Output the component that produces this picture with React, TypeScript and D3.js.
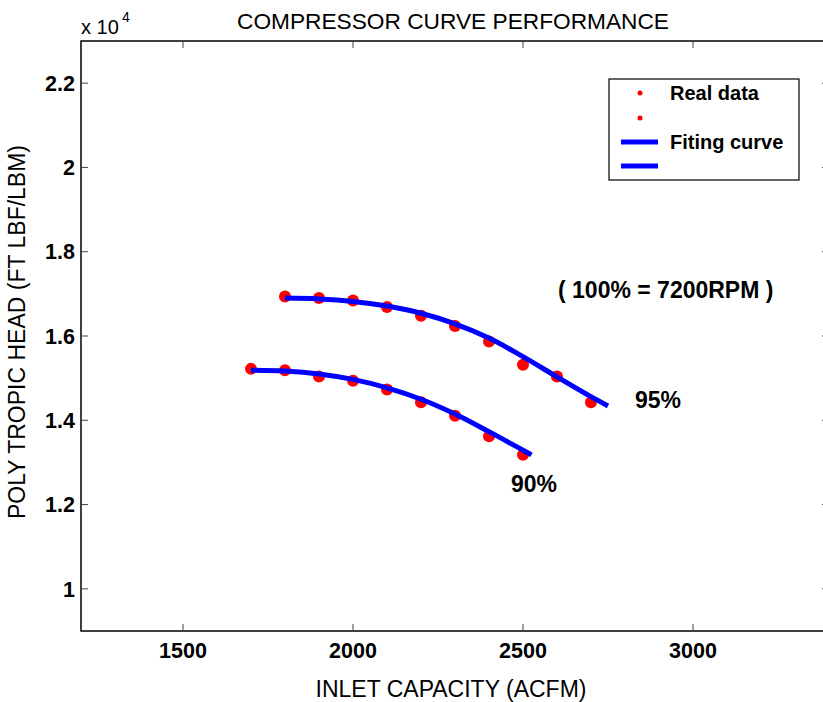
import React from "react";
import * as d3 from "d3";

// ---- data (head values in FT LBF/LBM, shown x 10^4) ----
const xTicks = [1500, 2000, 2500, 3000];
const yTicks = [10000, 12000, 14000, 16000, 18000, 20000, 22000];

const realX95 = [1800, 1900, 2000, 2100, 2200, 2300, 2400, 2500, 2600, 2700];
const realY95 = [16940, 16900, 16840, 16690, 16480, 16240, 15870, 15320, 15040, 14430];

const realX90 = [1700, 1800, 1900, 2000, 2100, 2200, 2300, 2400, 2500];
const realY90 = [15220, 15190, 15040, 14940, 14730, 14430, 14110, 13620, 13180];

const fitX95 = [1800, 1900, 2000, 2100, 2200, 2300, 2400, 2500, 2600, 2700, 2750];
const fitY95 = [16900, 16880, 16820, 16710, 16540, 16290, 15950, 15510, 15030, 14560, 14340];

const fitX90 = [1700, 1800, 1900, 2000, 2100, 2200, 2300, 2400, 2500, 2525];
const fitY90 = [15190, 15170, 15100, 14970, 14770, 14500, 14150, 13730, 13290, 13180];

const legendLabels = ["Real data", "", "Fiting curve", ""];

const W = 823;
const H = 702;
const M = { left: 81, top: 41, right: 829, bottom: 631 };

export default function App() {
  const x = d3.scaleLinear().domain([1200, 3400]).range([M.left, M.right]);
  const y = d3.scaleLinear().domain([9000, 23000]).range([M.bottom, M.top]);
  const line = d3
    .line<[number, number]>()
    .x((d) => x(d[0]))
    .y((d) => y(d[1]))
    .curve(d3.curveCatmullRom.alpha(0.5));

  const fit95 = fitX95.map((v, i) => [v, fitY95[i]] as [number, number]);
  const fit90 = fitX90.map((v, i) => [v, fitY90[i]] as [number, number]);
  const pts = [
    ...realX95.map((v, i) => [v, realY95[i]]),
    ...realX90.map((v, i) => [v, realY90[i]]),
  ];
  const tickLen = 7;
  const font = "'Liberation Sans', Arial, Helvetica, sans-serif";
  const fmt = (d: number) => String(d / 1e4);

  return (
    <svg
      width={W}
      height={H}
      style={{ position: "absolute", left: 0, top: 0, background: "#fff" }}
      fontFamily={font}
    >
      <rect x={0} y={0} width={W} height={H} fill="#fff" />
      {/* axes box */}
      <rect
        x={M.left}
        y={M.top}
        width={M.right - M.left}
        height={M.bottom - M.top}
        fill="none"
        stroke="#000"
        strokeWidth={1.5}
      />
      {/* ticks */}
      {xTicks.map((t) => (
        <g key={"xt" + t}>
          <line x1={x(t)} x2={x(t)} y1={M.bottom} y2={M.bottom - tickLen} stroke="#444" strokeWidth={1} />
          <line x1={x(t)} x2={x(t)} y1={M.top} y2={M.top + tickLen} stroke="#444" strokeWidth={1} />
          <text x={x(t)} y={658} textAnchor="middle" fontSize={21.5} fontWeight="bold" fill="#000">
            {t}
          </text>
        </g>
      ))}
      {yTicks.map((t) => (
        <g key={"yt" + t}>
          <line x1={M.left} x2={M.left + tickLen} y1={y(t)} y2={y(t)} stroke="#444" strokeWidth={1} />
          <line x1={M.right} x2={M.right - tickLen} y1={y(t)} y2={y(t)} stroke="#444" strokeWidth={1} />
          <text x={75} y={y(t)} dy="0.36em" textAnchor="end" fontSize={21.5} fontWeight="bold" fill="#000">
            {fmt(t)}
          </text>
        </g>
      ))}
      {/* exponent */}
      <text x={81} y={34} fontSize={20} fill="#000">
        x 10
      </text>
      <text x={122} y={22} fontSize={14} fill="#000">
        4
      </text>
      {/* title & labels */}
      <text x={453} y={29} textAnchor="middle" fontSize={22.7} fill="#000">
        COMPRESSOR CURVE PERFORMANCE
      </text>
      <text x={451} y={697} textAnchor="middle" fontSize={23} fill="#000">
        INLET CAPACITY (ACFM)
      </text>
      <text
        transform="translate(25,332) rotate(-90)"
        textAnchor="middle"
        fontSize={23}
        fill="#000"
      >
        POLY TROPIC HEAD (FT LBF/LBM)
      </text>
      {/* data */}
      {pts.map((p, i) => (
        <circle key={"p" + i} cx={x(p[0])} cy={y(p[1])} r={6} fill="#ff0000" />
      ))}
      <path d={line(fit95) || ""} fill="none" stroke="#0000ff" strokeWidth={5} />
      <path d={line(fit90) || ""} fill="none" stroke="#0000ff" strokeWidth={5} />
      {/* annotations */}
      <text x={558} y={298} fontSize={23} fontWeight="bold" fill="#000">
        ( 100% = 7200RPM )
      </text>
      <text x={635} y={408} fontSize={23} fontWeight="bold" fill="#000">
        95%
      </text>
      <text x={511} y={492} fontSize={23} fontWeight="bold" fill="#000">
        90%
      </text>
      {/* legend */}
      <rect x={609} y={79} width={190} height={101} fill="#fff" stroke="#000" strokeWidth={1.2} />
      <circle cx={640} cy={93} r={2.5} fill="#ff0000" />
      <circle cx={640} cy={118} r={2.5} fill="#ff0000" />
      <line x1={621} x2={658} y1={142} y2={142} stroke="#0000ff" strokeWidth={5} />
      <line x1={621} x2={658} y1={166} y2={166} stroke="#0000ff" strokeWidth={5} />
      <text x={670} y={100} fontSize={20} fontWeight="bold" fill="#000">
        {legendLabels[0]}
      </text>
      <text x={670} y={149} fontSize={20} fontWeight="bold" fill="#000">
        {legendLabels[2]}
      </text>
    </svg>
  );
}
